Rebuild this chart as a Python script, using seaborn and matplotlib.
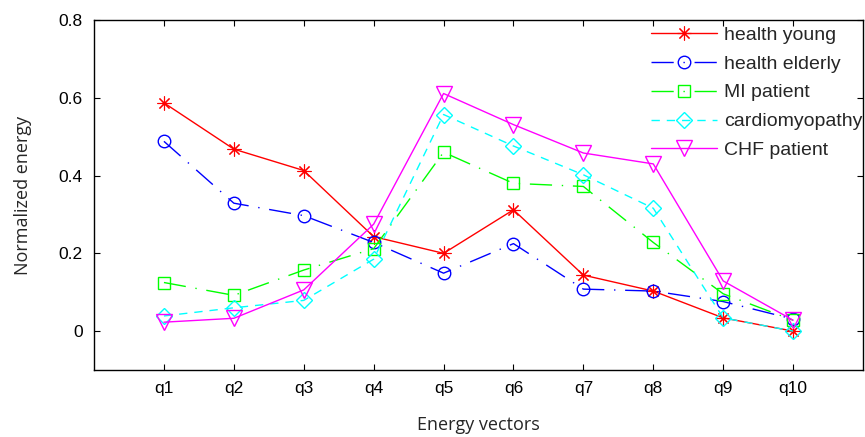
import matplotlib
matplotlib.use("Agg")
import matplotlib.pyplot as plt
import seaborn as sns
import numpy as np

categories = ["q1", "q2", "q3", "q4", "q5", "q6", "q7", "q8", "q9", "q10"]
health_young = [0.587, 0.468, 0.413, 0.243, 0.200, 0.312, 0.144, 0.103, 0.034, 0.000]
health_elderly = [0.488, 0.329, 0.297, 0.228, 0.149, 0.225, 0.108, 0.103, 0.076, 0.031]
mi_patient = [0.125, 0.092, 0.157, 0.212, 0.460, 0.380, 0.372, 0.228, 0.096, 0.028]
cardiomyopathy = [0.039, 0.060, 0.079, 0.185, 0.557, 0.476, 0.402, 0.316, 0.034, 0.000]
chf_patient = [0.023, 0.033, 0.106, 0.275, 0.611, 0.531, 0.458, 0.430, 0.129, 0.028]

series = [
    ("health young", health_young, "#ff0000", (8, 2, 0), "-", 10, 0.8),
    ("health elderly", health_elderly, "#0000ff", "o", (0, (16, 7, 1, 7)), 9, 1.0),
    ("MI patient", mi_patient, "#00ff00", "s", (0, (16, 7, 1, 7)), 9, 1.0),
    ("cardiomyopathy", cardiomyopathy, "#00ffff", "D", (0, (6, 5)), 8, 1.0),
    ("CHF patient", chf_patient, "#ff00ff", "v", "-", 11, 1.0),
]

sns.set_style("white")
plt.rcParams["font.family"] = ["Liberation Sans", "DejaVu Sans"]

fig = plt.figure(figsize=(8.65, 4.37), dpi=100)
ax = fig.add_axes([0.1087, 0.1533, 0.889, 0.8009])

x = np.arange(1, len(categories) + 1)
for name, vals, color, marker, ls, ms, mew in series:
    sns.lineplot(x=x, y=vals, ax=ax, color=color, marker=marker, linestyle=ls,
                 markersize=ms, markerfacecolor="none", markeredgecolor=color,
                 markeredgewidth=mew, linewidth=1.0, label=name, sort=False)

ax.set_xlim(0, 11)
ax.set_ylim(-0.1, 0.8)
ax.set_xticks(x)
ax.set_xticklabels(categories)
ax.set_yticks([0, 0.2, 0.4, 0.6, 0.8])
ax.set_yticklabels(["0", "0.2", "0.4", "0.6", "0.8"])
ax.tick_params(direction="in", length=4, width=0.8, top=True, right=True,
               bottom=True, left=True, labelsize=12.5, colors="black", pad=8)
for s in ax.spines.values():
    s.set_visible(True)
    s.set_color("black")
    s.set_linewidth(1.0)

ax.set_xlabel("Energy vectors", fontsize=13, family=["Open Sans", "DejaVu Sans"], labelpad=14)
ax.set_ylabel("Normalized energy", fontsize=13, family=["Open Sans", "DejaVu Sans"], labelpad=19)

leg = ax.legend(loc="upper right", frameon=False, fontsize=14, handlelength=3.4,
                handletextpad=0.35, labelspacing=0.58, borderaxespad=0.0,
                bbox_to_anchor=(1.009, 1.005))

fig.savefig("out.png", dpi=100)
